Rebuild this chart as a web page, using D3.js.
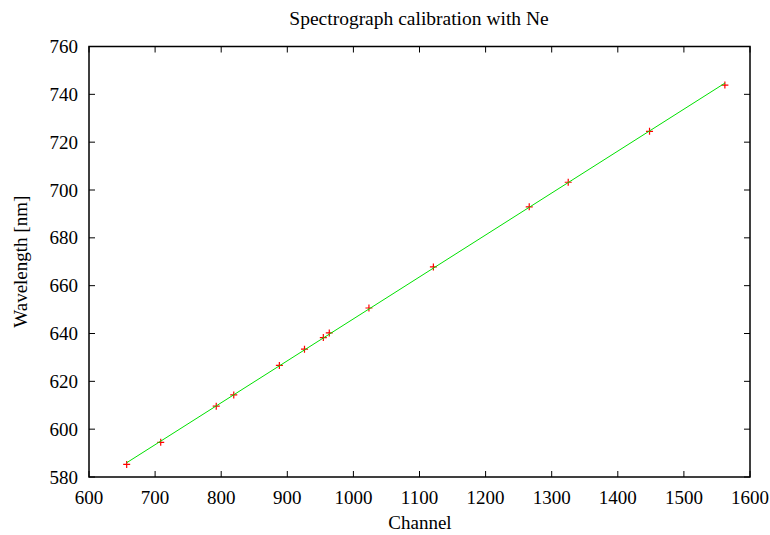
<!DOCTYPE html>
<html><head><meta charset="utf-8">
<script src="https://cdn.jsdelivr.net/npm/d3@7"></script>
<style>body{margin:0;background:#fff}text{font-family:"Liberation Serif","Times New Roman",serif;fill:#000}</style>
</head><body><svg id="c" width="770" height="535"></svg>
<script>
const channels = [657, 708.5, 792.5, 819, 888, 926, 954.5, 963.5, 1023.5, 1121, 1266, 1325, 1448, 1562];
const wavelengths = [585.249, 594.483, 609.616, 614.306, 626.650, 633.443, 638.299, 640.225, 650.653, 667.828, 692.947, 703.241, 724.517, 743.890];
const xTicks = [600, 700, 800, 900, 1000, 1100, 1200, 1300, 1400, 1500, 1600];
const yTicks = [580, 600, 620, 640, 660, 680, 700, 720, 740, 760];

const svg = d3.select("#c");
const L = 89, R = 750, T = 46.5, B = 477;
const x = d3.scaleLinear().domain([600, 1600]).range([L, R]);
const y = d3.scaleLinear().domain([580, 760]).range([B, T]);

// fit line (least squares through the data)
const n = channels.length;
const mx = d3.mean(channels), my = d3.mean(wavelengths);
let sxy = 0, sxx = 0;
for (let i = 0; i < n; i++) { sxy += (channels[i]-mx)*(wavelengths[i]-my); sxx += (channels[i]-mx)**2; }
const slope = sxy/sxx, icpt = my - slope*mx;
const fitX = [d3.min(channels), d3.max(channels)];

const g = svg.append("g");
const fs = 19;
// ticks (inward, mirrored)
const tl = 6;
xTicks.forEach(v => {
  g.append("line").attr("x1", x(v)).attr("x2", x(v)).attr("y1", B).attr("y2", B - tl).attr("stroke", "#000").attr("stroke-width", 1);
  g.append("line").attr("x1", x(v)).attr("x2", x(v)).attr("y1", T).attr("y2", T + tl).attr("stroke", "#000").attr("stroke-width", 1);
  g.append("text").attr("x", x(v)).attr("y", 504).attr("text-anchor", "middle").attr("font-size", fs).text(v);
});
yTicks.forEach(v => {
  g.append("line").attr("x1", L).attr("x2", L + tl).attr("y1", y(v)).attr("y2", y(v)).attr("stroke", "#000").attr("stroke-width", 1);
  g.append("line").attr("x1", R).attr("x2", R - tl).attr("y1", y(v)).attr("y2", y(v)).attr("stroke", "#000").attr("stroke-width", 1);
  g.append("text").attr("x", 78).attr("y", y(v) + 6.5).attr("text-anchor", "end").attr("font-size", fs).text(v);
});

// points
const arm = 3.5;
const pts = g.append("g");
channels.forEach((c, i) => {
  const px = x(c), py = y(wavelengths[i]);
  pts.append("path").attr("d", `M${px-arm},${py}H${px+arm}M${px},${py-arm}V${py+arm}`).attr("stroke", "#f00").attr("stroke-width", 1.2).attr("fill", "none");
});
// fit line
g.append("line").attr("x1", x(fitX[0])).attr("y1", y(icpt + slope*fitX[0]))
  .attr("x2", x(fitX[1])).attr("y2", y(icpt + slope*fitX[1]))
  .attr("stroke", "#00e000").attr("stroke-width", 1);

// frame
g.append("rect").attr("x", L).attr("y", T).attr("width", R - L).attr("height", B - T).attr("fill", "none").attr("stroke", "#000").attr("stroke-width", 1.5);

svg.append("text").attr("x", 419).attr("y", 25).attr("text-anchor", "middle").attr("font-size", 19.5).text("Spectrograph calibration with Ne");
svg.append("text").attr("x", 420).attr("y", 529).attr("text-anchor", "middle").attr("font-size", fs).text("Channel");
svg.append("text").attr("transform", "translate(27," + ((T+B)/2) + ") rotate(-90)").attr("text-anchor", "middle").attr("font-size", fs).text("Wavelength [nm]");
</script></body></html>
